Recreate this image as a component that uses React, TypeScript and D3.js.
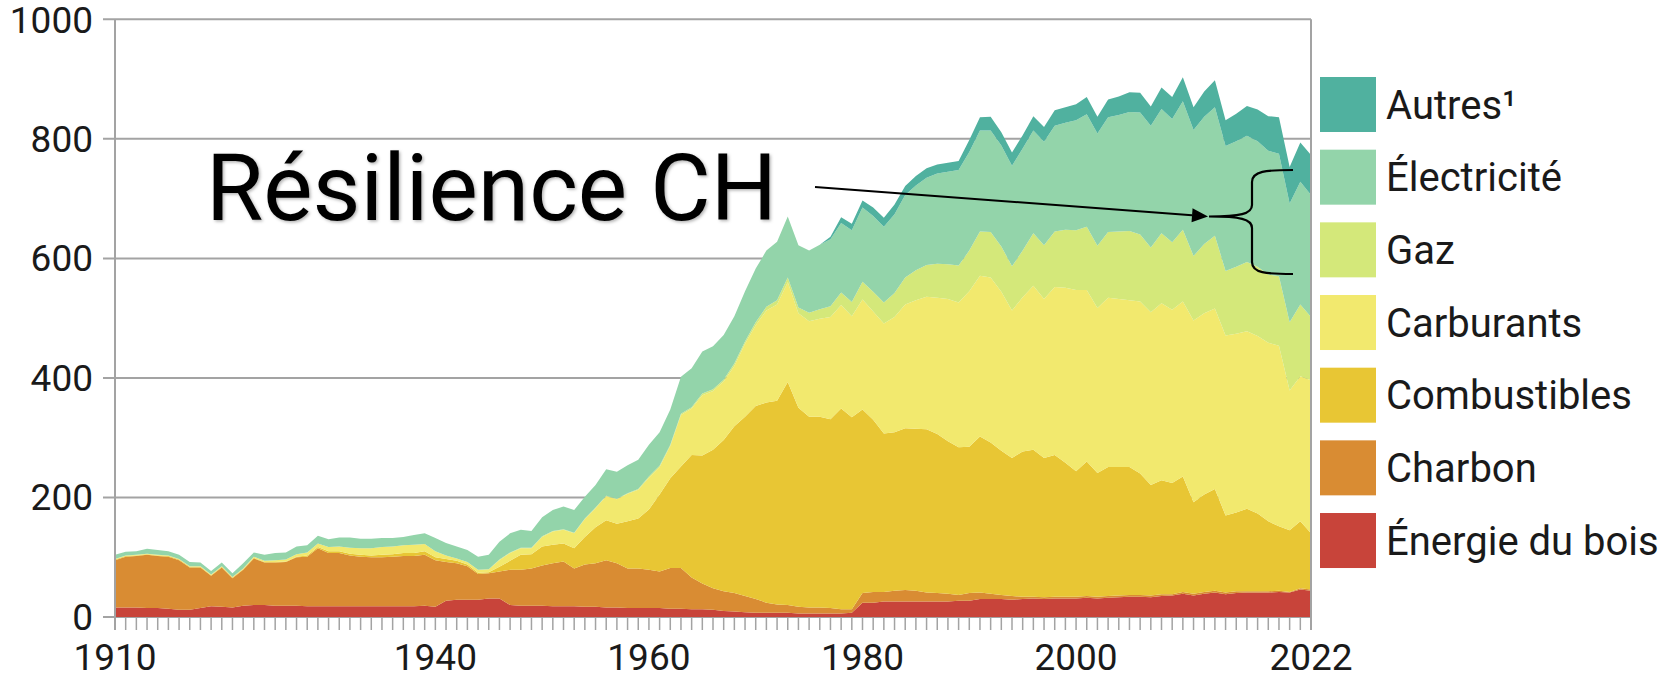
import React from 'react';
import * as d3 from 'd3';

// final energy use by source, PJ, 1910-2022
const firstYear = 1910;
const lastYear = 2022;
const years = d3.range(firstYear, lastYear + 1);

const bois = [
  16,16,16,15,15,14,12,12,15,18,17,16,19,20,20,19,19,19,18,18,18,18,18,18,18,18,18,18,18,19,
  17,27,29,29,29,31,31,20,19,19,19,18,18,18,17,17,16,16,15,15,15,15,14,14,13,13,12,10,9,8,
  7,7,7,7,6,6,6,6,6,7,24,24,26,26,26,26,26,26,26,27,27,30,30,30,29,30,31,30,31,31,
  31,32,31,32,33,34,34,33,35,36,39,36,39,41,38,40,41,41,41,42,41,46,44];

const charbon = [
  79,85,86,89,87,87,83,71,68,51,66,49,60,78,71,72,73,81,83,97,89,89,85,83,82,82,83,84,84,85,
  78,65,61,56,43,42,45,59,60,62,67,72,75,63,71,73,79,74,66,66,64,61,68,68,53,43,36,33,31,27,
  23,17,14,13,11,10,10,9,7,6,16,18,16,18,19,18,15,14,13,10,13,11,9,7,6,4,3,3,3,3,
  3,3,3,3,3,3,3,3,3,2,3,3,3,3,3,3,2,2,2,2,1,2,2];

const combustibles = [
  1,1,1,1,1,1,1,1,1,1,1,1,1,1,1,1,1,1,2,2,3,3,3,3,3,4,4,5,5,6,
  5,5,4,3,2,2,8,15,25,24,32,31,30,34,46,60,67,66,79,84,101,129,150,170,205,214,232,253,279,300,
  323,335,341,373,333,319,319,316,336,321,307,288,265,265,271,271,273,266,255,247,245,261,253,241,231,243,246,233,237,224,
  210,225,207,216,215,214,203,185,191,186,193,153,163,170,129,132,138,130,117,108,103,112,94];

const carburants = [
  1,1,1,1,1,1,1,1,1,1,1,1,1,2,2,3,3,4,5,6,7,8,10,11,12,13,13,13,14,12,
  10,6,4,4,5,5,11,13,11,10,16,22,23,25,30,32,40,41,46,48,53,46,54,86,78,101,98,98,101,122,
  135,154,161,167,158,160,164,171,173,169,184,181,184,193,207,215,222,228,238,242,260,269,276,266,247,258,274,266,281,293,
  303,287,276,283,281,279,288,289,296,290,293,304,303,302,301,299,297,297,299,302,234,243,256];

const gaz = [
  0,0,0,0,0,0,0,0,0,0,0,0,0,0,0,0,0,0,0,0,0,0,0,0,0,0,0,0,0,0,
  0,0,0,0,0,0,1,1,1,1,1,1,1,1,1,1,1,1,1,1,2,2,2,2,2,3,3,3,4,4,
  5,6,7,8,10,14,16,18,21,24,30,33,35,40,45,50,53,57,58,62,68,74,76,76,74,78,88,90,93,97,
  100,106,104,110,113,116,112,108,117,113,120,108,116,122,108,112,116,116,114,116,114,120,106];

const electricite = [
  7,6,6,8,8,7,7,7,6,6,6,6,9,7,10,12,12,13,12,13,13,15,17,16,16,15,14,14,16,18,
  22,21,20,20,22,24,30,32,30,28,32,35,38,38,36,38,44,45,47,49,53,56,59,62,65,70,72,75,79,84,
  90,94,98,102,104,104,108,112,116,120,124,127,127,132,138,142,146,151,155,160,165,169,170,169,168,171,172,173,177,179,
  184,188,188,192,195,199,204,204,208,206,215,211,213,215,209,210,211,210,207,205,199,205,204];

const autres = [
  0,0,0,0,0,0,0,0,0,0,0,0,0,0,0,0,0,0,0,0,0,0,0,0,0,0,0,0,0,0,
  0,0,0,0,0,0,0,0,0,0,0,0,0,0,0,0,0,0,0,0,0,0,0,0,0,0,0,0,0,0,
  0,0,0,0,0,0,0,4,10,11,12,14,15,16,15,16,16,15,15,15,20,22,23,22,22,22,24,25,26,26,
  27,29,28,30,31,33,33,32,36,37,40,38,42,45,43,46,50,53,58,61,61,66,67];

// stacking order, bottom to top
const keys = ['bois', 'charbon', 'combustibles', 'carburants', 'gaz', 'electricite', 'autres'];
const labels = {
  autres: 'Autres¹',
  electricite: 'Électricité',
  gaz: 'Gaz',
  carburants: 'Carburants',
  combustibles: 'Combustibles',
  charbon: 'Charbon',
  bois: 'Énergie du bois',
};
const colors = {
  autres: '#50b19f',
  electricite: '#93d4aa',
  gaz: '#d4e87a',
  carburants: '#f2e96e',
  combustibles: '#e8c634',
  charbon: '#d98c33',
  bois: '#c8443a',
};
const legendOrder = ['autres', 'electricite', 'gaz', 'carburants', 'combustibles', 'charbon', 'bois'];

const yTicks = [0, 200, 400, 600, 800, 1000];
const xLabels = [1910, 1940, 1960, 1980, 2000, 2022];
const annotation = 'Résilience CH';

const width = 1663, height = 678;
const margin = {top: 19.3, right: 352, bottom: 61, left: 115};
const font = 'Roboto, "Noto Sans", sans-serif';
const gridColor = '#a3a3a3';

export default function App() {
  const x = d3.scaleLinear().domain([firstYear, lastYear]).range([margin.left, width - margin.right]);
  const y = d3.scaleLinear().domain([0, 1000]).range([height - margin.bottom, margin.top]);

  const series = {bois, charbon, combustibles, carburants, gaz, electricite, autres};
  const rows = years.map((yr, i) => {
    const row = {year: yr};
    keys.forEach(k => { row[k] = series[k][i]; });
    return row;
  });
  const stacked = d3.stack().keys(keys)(rows);
  const area = d3.area()
    .x(d => x(d.data.year))
    .y0(d => y(d[0]))
    .y1(d => y(d[1]));

  const x0 = x(firstYear), x1 = x(lastYear), yBase = y(0);

  // legend block
  const legX = 1320, legTop = 77, legStep = 72.67, sw = 56, sh = 55;

  // annotation arrow + brace
  const arrowFrom = [815, 187], arrowTip = [1208, 216.5];
  const ang = Math.atan2(arrowTip[1] - arrowFrom[1], arrowTip[0] - arrowFrom[0]);
  const hl = 16, hw = 7;
  const bx = [arrowTip[0] - hl * Math.cos(ang), arrowTip[1] - hl * Math.sin(ang)];
  const head = [
    arrowTip,
    [bx[0] + hw * Math.sin(ang), bx[1] - hw * Math.cos(ang)],
    [bx[0] - hw * Math.sin(ang), bx[1] + hw * Math.cos(ang)],
  ];
  const brace = 'M1293,170 C1266,170 1252,171 1252,182 L1252,205 C1252,214 1240,216.5 1209,216.5 ' +
    'C1240,216.5 1252,219 1252,228 L1252,262 C1252,273 1266,274 1293,274';

  return (
    <svg width={width} height={height} style={{position: 'absolute', left: 0, top: 0, background: '#fff'}}>
      <defs>
        <filter id="soft" x="-5%" y="-20%" width="110%" height="140%">
          <feDropShadow dx="1.5" dy="1.5" stdDeviation="1.5" floodColor="#000" floodOpacity="0.3" />
        </filter>
      </defs>

      {/* grid */}
      {yTicks.map(t => (
        <line key={t} x1={x0 - 12} x2={x1} y1={y(t)} y2={y(t)} stroke={gridColor} strokeWidth={2} />
      ))}

      {stacked.map(s => (
        <path key={s.key} d={area(s)} fill={colors[s.key]} />
      ))}

      {/* frame */}
      <line x1={x0} x2={x0} y1={y(1000)} y2={yBase + 13} stroke={gridColor} strokeWidth={2} />
      <line x1={x1} x2={x1} y1={y(1000)} y2={yBase + 13} stroke={gridColor} strokeWidth={2} />
      {years.map(yr => (
        <line key={yr} x1={x(yr)} x2={x(yr)} y1={yBase} y2={yBase + 13} stroke={gridColor} strokeWidth={1.5} />
      ))}

      {yTicks.map(t => (
        <text key={t} x={93} y={y(t) + (t === 1000 ? 1 : 0)} dy="0.35em" textAnchor="end" fontFamily={font} fontSize={37} fill="#1a1a1a">{t}</text>
      ))}
      {xLabels.map(t => (
        <text key={t} x={x(t)} y={670} textAnchor="middle" fontFamily={font} fontSize={37} fill="#1a1a1a">{t}</text>
      ))}

      {legendOrder.map((k, i) => {
        const top = legTop + i * legStep;
        return (
          <g key={k}>
            <rect x={legX} y={top} width={sw} height={sh} fill={colors[k]} />
            <text x={1386} y={top + sh / 2} dy="0.35em" fontFamily={font} fontSize={40} fill="#1a1a1a">{labels[k]}</text>
          </g>
        );
      })}

      <text x={206} y={220} fontFamily={font} fontSize={93} fill="#000" filter="url(#soft)">{annotation}</text>
      <line x1={arrowFrom[0]} y1={arrowFrom[1]} x2={bx[0]} y2={bx[1]} stroke="#000" strokeWidth={2} />
      <polygon points={head.map(p => p.join(',')).join(' ')} fill="#000" />
      <path d={brace} fill="none" stroke="#000" strokeWidth={2.2} />
    </svg>
  );
}
